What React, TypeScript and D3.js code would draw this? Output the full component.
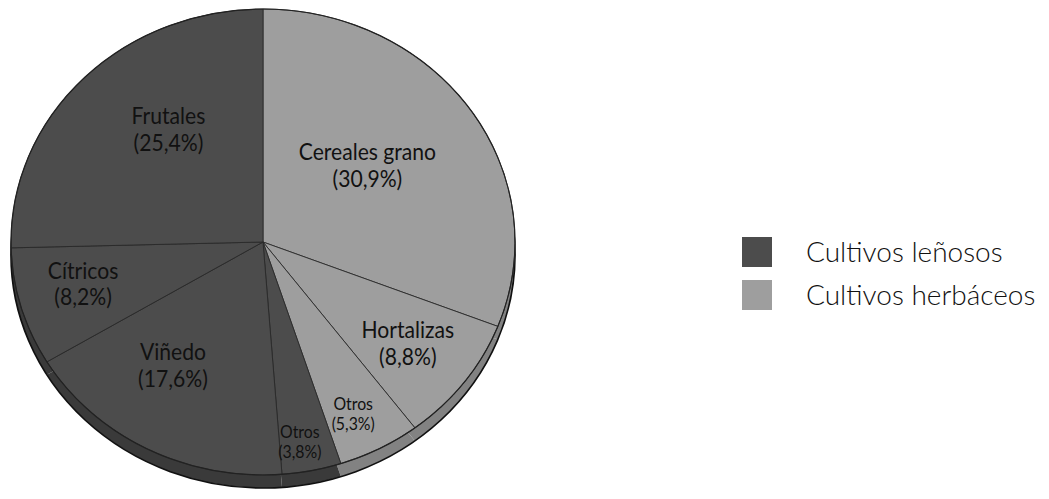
import React from 'react';
import * as d3 from 'd3';

const width = 1049;
const height = 499;

// slices clockwise from 12 o'clock
const labels = ['Cereales grano', 'Hortalizas', 'Otros', 'Otros', 'Viñedo', 'Cítricos', 'Frutales'];
const values = [30.9, 8.8, 5.3, 3.8, 17.6, 8.2, 25.4];
const groups = ['h', 'h', 'h', 'l', 'l', 'l', 'l'];
const legendLabels = ['Cultivos leñosos', 'Cultivos herbáceos'];
const legendKeys = ['l', 'h'];

// layout only: label radius (share of radius), angle shift (deg), font size
const labelRadius = [0.52, 0.73, 0.83, 0.88, 0.65, 0.74, 0.6];
const labelShift = [-2.8, 1, 2, 1.6, 6, 1, 7];
const labelSize = [24, 24, 18, 18, 24, 24, 24];

const cx = 263;
const cy = 242;
const rx = 252;
const ry = 233;
const depth = 13;

const fillTop = { l: '#4c4c4c', h: '#9e9e9e' };
const fillSide = { l: '#3a3a3a', h: '#828282' };

const fmt = (v: number) => `(${d3.format('.1f')(v).replace('.', ',')}%)`;

export default function App() {
  const pie = d3.pie<number>().sort(null).startAngle(0).endAngle(2 * Math.PI);
  const arcs = pie(values);
  const arc = d3.arc<d3.PieArcDatum<number>>().innerRadius(0).outerRadius(rx);
  const k = ry / rx;

  const color = d3.scaleOrdinal<string, string>().domain(['l', 'h']).range([fillTop.l, fillTop.h]);
  const side = d3.scaleOrdinal<string, string>().domain(['l', 'h']).range([fillSide.l, fillSide.h]);

  const legendY = d3.scalePoint<string>().domain(legendLabels).range([252, 295]);

  return (
    <svg width={width} height={height} style={{ position: 'absolute', left: 0, top: 0 }}>
      <rect width={width} height={height} fill="#fff" />
      {/* side of the disc */}
      <g transform={`translate(${cx},${cy + depth}) scale(1,${k})`}>
        {arcs.map((a, i) => (
          <path key={i} d={arc(a) || ''} fill={side(groups[i])} stroke="none" />
        ))}
        <ellipse rx={rx} ry={rx} fill="none" stroke="#111" strokeWidth={1.6 / k} />
      </g>
      {/* top of the disc */}
      <g transform={`translate(${cx},${cy}) scale(1,${k})`}>
        {arcs.map((a, i) => (
          <path key={i} d={arc(a) || ''} fill={color(groups[i])} stroke="#2a2a2a" strokeWidth={0.9} />
        ))}
        <ellipse rx={rx} ry={rx} fill="none" stroke="#222" strokeWidth={1.2} />
      </g>
      {arcs.map((a, i) => {
        const mid = (a.startAngle + a.endAngle) / 2 + (labelShift[i] * Math.PI) / 180;
        const r = labelRadius[i] * rx;
        const x = cx + r * Math.sin(mid);
        const y = cy - r * k * Math.cos(mid);
        const fs = labelSize[i];
        const gap = fs * 1.12;
        const y0 = -(gap - fs * 0.6) / 2 - fs * 0.1;
        return (
          <g key={i} transform={`translate(${x},${y}) scale(0.88,1)`}>
            {[labels[i], fmt(values[i])].map((t, j) => (
              <text
                key={j}
                x={0}
                y={y0 + j * gap}
                textAnchor="middle"
                fontFamily="Lato, sans-serif"
                fontSize={fs}
                fill="#111"
              >
                {t}
              </text>
            ))}
          </g>
        );
      })}
      {legendLabels.map((l, i) => {
        const y = legendY(l) as number;
        return (
          <g key={l}>
            <rect x={742} y={y - 15} width={30} height={30} fill={color(legendKeys[i])} />
            <text
              x={806}
              y={y - 1}
              dominantBaseline="central"
              fontFamily="Lato, 'Open Sans', sans-serif"
              fontWeight={300}
              fontSize={28}
              fill="#111"
            >
              {l}
            </text>
          </g>
        );
      })}
    </svg>
  );
}
